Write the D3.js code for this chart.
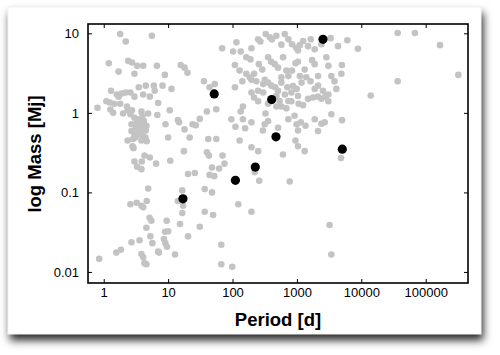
<!DOCTYPE html>
<html>
<head>
<meta charset="utf-8">
<script src="https://cdn.jsdelivr.net/npm/d3@7"></script>
<style>
  body { margin: 0; background: #fff; }
  svg text { font-family: "Liberation Sans", Arial, sans-serif; }
</style>
</head>
<body>
<div class="chart"></div>
<script>
(function(){

  var width = 500;
  var height = 355;

  // decades shown on the axes
  var xTicks = [1, 10, 100, 1000, 10000, 100000];
  var yTicks = [0.01, 0.1, 1, 10];

  // known exoplanets: [period in days, mass in Mj]
  var grayPlanets = [
    [1.8,9.8],[2.2,7.9],[5.6,9.3],[1.2,4.2],[2.4,4.5],[2.75,4.3],[3.3,3.9],[4.1,3.9],[6.7,3.9],[1.7,3.3],
    [3.0,3.1],[8.9,3.0],[15.7,4.0],[18,3.7],[20,3.2],[36,2.5],[44,2.1],[53,2.3],[3.5,2.1],[4.5,2.2],
    [6.0,2.2],[6.2,1.9],[8.2,2.2],[11.3,2.0],[1.3,1.9],[1.6,1.7],[1.9,1.75],[2.2,1.8],[2.6,1.8],[1.7,1.6],
    [3.0,1.6],[4.1,1.7],[5.2,1.6],[1.1,1.4],[1.24,1.35],[1.45,1.3],[0.8,1.16],[1.27,1.1],[1.4,1.0],[1.8,1.3],
    [2.3,1.2],[2.75,1.08],[3.85,1.04],[4.0,0.91],[2.35,1.08],[2.0,0.98],[7.0,1.33],[4.9,0.98],[6.8,0.94],[10.6,1.08],
    [9.1,0.72],[14.2,0.81],[14.8,0.76],[18,0.62],[24,0.72],[27,0.70],[31,0.84],[40,1.04],[56,1.11],[4.6,0.69],
    [4.5,0.60],[3.4,0.83],[3.3,0.69],[3.6,0.59],[3.0,0.54],[2.7,0.59],[2.85,0.47],[4.65,0.44],[2.35,0.45],[2.8,0.38],
    [2.9,0.36],[10,0.49],[17.6,0.33],[21.6,0.49],[42,0.47],[56,0.47],[40,0.32],[2.6,0.96],[3.0,0.87],[3.3,0.78],
    [3.85,0.73],[4.2,0.79],[3.2,0.65],[3.85,0.62],[3.4,0.54],[4.05,0.51],[3.1,0.49],[3.85,0.45],[4.45,0.49],[2.7,0.72],
    [69,6.5],[115,7.7],[102,5.9],[134,5.9],[164,5.0],[190,4.7],[197,6.5],[250,8.4],[271,7.9],[328,9.8],
    [378,8.9],[411,8.4],[480,9.3],[574,7.2],[647,9.8],[737,8.4],[840,7.3],[975,6.6],[1040,6.1],[1110,7.1],
    [1250,8.0],[1490,6.9],[1640,8.4],[1890,6.3],[2400,7.3],[3340,8.7],[4350,6.9],[109,4.0],[129,3.4],[164,3.1],
    [185,2.8],[216,3.1],[256,4.1],[290,3.5],[357,5.0],[400,4.4],[452,4.1],[509,3.7],[609,5.0],[686,3.4],
    [737,2.9],[840,3.4],[950,4.2],[1040,4.4],[1320,3.5],[1720,4.6],[1890,4.1],[2130,2.9],[2870,5.0],[3080,3.9],
    [3430,2.9],[3840,2.5],[4900,3.1],[5000,4.0],[109,2.1],[142,2.5],[197,2.6],[235,2.5],[317,2.6],[357,2.4],
    [400,2.2],[460,2.1],[510,1.9],[574,2.4],[650,1.7],[710,2.1],[820,1.8],[990,2.0],[1180,2.4],[1400,2.8],
    [1630,2.5],[1890,2.0],[2130,2.2],[2540,1.9],[2760,1.6],[3080,1.4],[4100,2.0],[145,1.2],[134,1.04],[197,1.8],
    [216,1.56],[250,1.4],[300,1.8],[325,0.98],[357,1.3],[480,1.2],[574,1.2],[686,1.14],[820,1.4],[1065,1.3],
    [1245,1.25],[1490,1.5],[1780,1.56],[2130,1.6],[2400,1.5],[3080,1.7],[96,0.83],[145,0.83],[197,0.76],[111,0.67],
    [157,0.64],[296,0.60],[317,0.72],[357,0.79],[510,0.65],[737,0.83],[920,0.92],[990,0.72],[1150,0.76],[1040,0.60],
    [1360,0.69],[1890,0.83],[2130,0.59],[2400,0.73],[2700,0.76],[3430,0.96],[129,0.45],[197,0.37],[250,0.33],[950,0.45],
    [1040,0.38],[1320,0.33],[480,1.63],[540,1.41],[400,1.48],[737,1.41],[1040,1.63],[870,2.17],[1110,2.9],[300,2.3],
    [250,1.9],[574,2.8],
    [3.0,0.245],[3.9,0.245],[3.3,0.21],[3.85,0.196],[4.3,0.29],[5.2,0.275],[6.5,0.23],[10.8,0.25],[20.4,0.17],[26,0.175],
    [43,0.29],[48,0.206],[52,0.16],[44,0.166],[4.9,0.112],[16.6,0.106],[37,0.11],[48,0.1],[2.6,0.071],[3.25,0.074],
    [3.85,0.068],[4.1,0.065],[4.65,0.078],[14.2,0.078],[17.1,0.068],[16.6,0.055],[37,0.057],[50,0.052],[5.15,0.048],[5.5,0.044],
    [4.6,0.036],[9.5,0.044],[15.3,0.040],[31,0.037],[5.3,0.028],[9.0,0.032],[10,0.0325],[20.4,0.028],[2.7,0.0236],[3.6,0.025],
    [5.7,0.023],[8.6,0.026],[9.05,0.023],[9.6,0.0207],[7.0,0.018],[7.2,0.0175],[12.8,0.0166],[0.85,0.0146],[1.57,0.0175],[1.85,0.019],
    [3.85,0.0168],[4.1,0.0153],[4.3,0.0129],[4.6,0.0125],
    [70,0.29],[62,0.2],[75,0.23],[221,0.18],[260,0.14],[773,0.137],[608,0.30],[4840,0.27],[123,0.071],[197,0.057],
    [3220,0.039],[3430,0.0166],[67,0.022],[67,0.0125],[99,0.0116],
    [6070,8.2],[8870,6.4],[36700,10.1],[68000,10.1],[167000,7.1],[36700,2.5],[321000,3.0],[14000,1.65],[5020,0.81]
  ];

  // highlighted planets
  var blackPlanets = [
    [52,1.73],[17,0.083],[111,0.142],[226,0.208],[406,1.47],[473,0.5],[2540,8.4],[5070,0.35]
  ];

  var plot = { left: 88, right: 468, top: 24, bottom: 283 };

  var x = d3.scaleLog().domain([0.57, 454000]).range([plot.left, plot.right]);
  var y = d3.scaleLog().domain([0.00726, 13.1]).range([plot.bottom, plot.top]);

  var svg = d3.select('.chart')
              .append('svg')
              .attr('width', width)
              .attr('height', height);

  var defs = svg.append('defs');
  var shadow = defs.append('filter')
                   .attr('id', 'shadow')
                   .attr('x', '-5%').attr('y', '-5%')
                   .attr('width', '115%').attr('height', '125%');
  shadow.append('feDropShadow')
        .attr('dx', 2).attr('dy', 6)
        .attr('stdDeviation', 4)
        .attr('flood-color', '#000')
        .attr('flood-opacity', 0.85);

  // card
  svg.append('rect')
     .attr('x', 8).attr('y', 7)
     .attr('width', 473).attr('height', 327)
     .attr('fill', '#fff')
     .attr('stroke', '#e4e4e4')
     .attr('stroke-width', 0.5)
     .attr('filter', 'url(#shadow)');

  var fmt = d3.format('d');
  var fmtY = function(d) { return d >= 1 ? fmt(d) : d3.format('')(d); };

  function styleAxis(g) {
    g.select('.domain').remove();
    g.selectAll('.tick line').attr('stroke', '#000').attr('stroke-width', 1);
    g.selectAll('.tick text').attr('fill', '#000').attr('font-size', '13px');
  }

  svg.append('g')
     .attr('transform', 'translate(0,' + plot.bottom + ')')
     .call(d3.axisBottom(x).tickValues(xTicks).tickFormat(fmt).tickSize(-4).tickPadding(5))
     .call(styleAxis);

  svg.append('g')
     .attr('transform', 'translate(0,' + plot.top + ')')
     .call(d3.axisTop(x).tickValues(xTicks).tickFormat('').tickSize(-4))
     .call(styleAxis);

  svg.append('g')
     .attr('transform', 'translate(' + plot.left + ',0)')
     .call(d3.axisLeft(y).tickValues(yTicks).tickFormat(fmtY).tickSize(-4).tickPadding(9))
     .call(styleAxis);

  svg.append('g')
     .attr('transform', 'translate(' + plot.right + ',0)')
     .call(d3.axisRight(y).tickValues(yTicks).tickFormat('').tickSize(-4))
     .call(styleAxis);

  svg.append('g')
     .selectAll('circle')
     .data(grayPlanets)
     .enter()
     .append('circle')
     .attr('cx', function(d) { return x(d[0]); })
     .attr('cy', function(d) { return y(d[1]); })
     .attr('r', 3.3)
     .attr('fill', '#c3c3c3');

  svg.append('g')
     .selectAll('circle')
     .data(blackPlanets)
     .enter()
     .append('circle')
     .attr('cx', function(d) { return x(d[0]); })
     .attr('cy', function(d) { return y(d[1]); })
     .attr('r', 4.6)
     .attr('fill', '#000');

  // frame
  svg.append('rect')
     .attr('x', plot.left).attr('y', plot.top)
     .attr('width', plot.right - plot.left)
     .attr('height', plot.bottom - plot.top)
     .attr('fill', 'none')
     .attr('stroke', '#000')
     .attr('stroke-width', 1.6);

  svg.append('text')
     .attr('x', (plot.left + plot.right) / 2)
     .attr('y', 326)
     .attr('text-anchor', 'middle')
     .attr('font-size', '18.5px')
     .attr('font-weight', 'bold')
     .text('Period [d]');

  svg.append('text')
     .attr('transform', 'translate(41,' + 154 + ') rotate(-90)')
     .attr('text-anchor', 'middle')
     .attr('font-size', '18.5px')
     .attr('font-weight', 'bold')
     .text('log Mass [Mj]');

})();
</script>
</body>
</html>
